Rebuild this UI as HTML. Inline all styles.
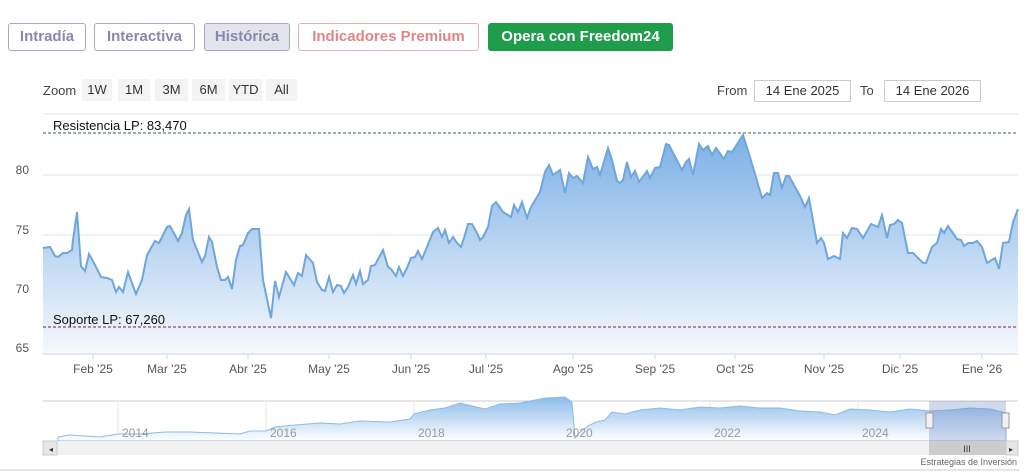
<!DOCTYPE html>
<html><head><meta charset="utf-8"><style>
body{margin:0;width:1033px;height:475px;background:#fff;font-family:"Liberation Sans",sans-serif;position:relative;overflow:hidden}
.b{position:absolute;top:23px;height:26px;border:1px solid #a9a7c4;border-radius:3px;font-weight:bold;font-size:15px;color:#8a87b0;line-height:26px;text-align:center;box-sizing:content-box}
.z{position:absolute;top:79px;height:22px;line-height:22px;background:#f3f3f3;font-size:13px;color:#333;text-align:center}
.t{position:absolute;font-size:13px;color:#444}
.in{position:absolute;top:80px;height:20px;border:1px solid #ccc;font-size:13px;line-height:20px;text-align:center;color:#333}
</style></head><body>
<div class="b" style="left:8px;width:76px">Intradía</div>
<div class="b" style="left:94px;width:99px">Interactiva</div>
<div class="b" style="left:204px;width:84px;background:#e4e4ec">Histórica</div>
<div class="b" style="left:298px;width:179px;color:#e08585;border-color:#e6b0b0">Indicadores Premium</div>
<div class="b" style="left:488px;width:185px;height:28px;border:none;background:#1f9d4b;color:#fff;line-height:28px">Opera con Freedom24</div>
<div class="t" style="left:43px;top:83px">Zoom</div>
<div class="z" style="left:82px;width:30px">1W</div>
<div class="z" style="left:118px;width:32px">1M</div>
<div class="z" style="left:155px;width:33px">3M</div>
<div class="z" style="left:192px;width:33px">6M</div>
<div class="z" style="left:229px;width:33px">YTD</div>
<div class="z" style="left:266px;width:31px">All</div>
<div class="t" style="left:717px;top:83px">From</div>
<div class="in" style="left:754px;width:95px">14 Ene 2025</div>
<div class="t" style="left:860px;top:83px">To</div>
<div class="in" style="left:884px;width:95px">14 Ene 2026</div>
<svg width="1033" height="475" style="position:absolute;left:0;top:0" font-family="Liberation Sans, sans-serif">
<defs>
<linearGradient id="g" x1="0" y1="0" x2="0" y2="1"><stop offset="0" stop-color="#7cb0e6"/><stop offset="1" stop-color="#f6f9fd"/></linearGradient>
<linearGradient id="g2" x1="0" y1="0" x2="0" y2="1"><stop offset="0" stop-color="#8dbbea"/><stop offset="1" stop-color="#fff"/></linearGradient>
</defs>
<g stroke="#e6e6e6"><line x1="43" x2="1018" y1="114" y2="114"/><line x1="43" x2="1018" y1="175" y2="175"/><line x1="43" x2="1018" y1="235" y2="235"/><line x1="43" x2="1018" y1="294" y2="294"/></g>
<polygon fill="url(#g)" points="43,354 43,248 50,247 55,256 58,257 63,253 67,253 72,250 73,240 77,212 81,266 85,271 89,254 95,265 101,277 107,278 112,280 116,292 119,287 123,292 128,272 136,294 142,280 147,255 155,241 159,243 167,227 170,226 178,241 182,233 186,215 189,209 193,240 202,262 205,256 209,237 212,242 217,267 221,280 225,280 228,277 232,289 236,260 240,246 243,245 248,233 252,229 259,229 263,280 271,318 275,281 279,297 286,272 294,285 298,273 302,276 306,255 313,263 317,282 322,290 325,291 329,277 333,292 337,285 341,286 344,293 348,287 353,275 356,284 360,271 363,284 368,280 371,266 375,265 383,250 388,267 391,269 396,276 399,267 403,276 407,268 411,258 415,257 418,251 422,259 427,247 433,232 438,228 442,237 445,230 449,243 453,237 457,243 461,247 464,238 468,224 472,224 477,233 480,240 483,237 488,227 492,206 496,202 503,212 511,217 514,205 518,212 522,202 527,218 531,207 540,192 545,172 549,165 553,175 560,170 565,193 569,173 573,178 577,176 583,183 588,157 593,169 597,167 600,175 608,148 612,160 617,181 620,183 623,180 627,162 631,177 635,171 639,182 647,171 650,178 655,168 660,167 666,144 669,145 682,170 686,162 689,159 693,175 699,144 703,150 708,146 712,155 716,148 724,159 728,151 732,152 743,135 750,157 762,198 767,193 770,195 774,173 778,173 782,188 786,176 789,176 800,196 805,207 809,198 817,243 821,238 824,243 828,259 834,256 840,259 843,233 847,238 852,228 857,229 863,238 871,224 878,227 882,215 887,238 890,225 894,224 898,220 902,223 908,253 913,253 923,263 926,263 932,247 937,243 941,229 944,233 948,226 957,239 961,240 964,246 968,243 973,243 977,241 982,247 987,263 995,258 999,269 1003,243 1009,242 1013,222 1018,209 1018,354"/>
<polyline fill="none" stroke="#6fa6dc" stroke-width="2" points="43,248 50,247 55,256 58,257 63,253 67,253 72,250 73,240 77,212 81,266 85,271 89,254 95,265 101,277 107,278 112,280 116,292 119,287 123,292 128,272 136,294 142,280 147,255 155,241 159,243 167,227 170,226 178,241 182,233 186,215 189,209 193,240 202,262 205,256 209,237 212,242 217,267 221,280 225,280 228,277 232,289 236,260 240,246 243,245 248,233 252,229 259,229 263,280 271,318 275,281 279,297 286,272 294,285 298,273 302,276 306,255 313,263 317,282 322,290 325,291 329,277 333,292 337,285 341,286 344,293 348,287 353,275 356,284 360,271 363,284 368,280 371,266 375,265 383,250 388,267 391,269 396,276 399,267 403,276 407,268 411,258 415,257 418,251 422,259 427,247 433,232 438,228 442,237 445,230 449,243 453,237 457,243 461,247 464,238 468,224 472,224 477,233 480,240 483,237 488,227 492,206 496,202 503,212 511,217 514,205 518,212 522,202 527,218 531,207 540,192 545,172 549,165 553,175 560,170 565,193 569,173 573,178 577,176 583,183 588,157 593,169 597,167 600,175 608,148 612,160 617,181 620,183 623,180 627,162 631,177 635,171 639,182 647,171 650,178 655,168 660,167 666,144 669,145 682,170 686,162 689,159 693,175 699,144 703,150 708,146 712,155 716,148 724,159 728,151 732,152 743,135 750,157 762,198 767,193 770,195 774,173 778,173 782,188 786,176 789,176 800,196 805,207 809,198 817,243 821,238 824,243 828,259 834,256 840,259 843,233 847,238 852,228 857,229 863,238 871,224 878,227 882,215 887,238 890,225 894,224 898,220 902,223 908,253 913,253 923,263 926,263 932,247 937,243 941,229 944,233 948,226 957,239 961,240 964,246 968,243 973,243 977,241 982,247 987,263 995,258 999,269 1003,243 1009,242 1013,222 1018,209"/>
<line x1="43" x2="1018" y1="133" y2="133" stroke="#2d6b2d" stroke-dasharray="3,2"/>
<line x1="43" x2="1018" y1="327" y2="327" stroke="#7a1f3a" stroke-dasharray="3,2"/>
<text x="53" y="130" font-size="13" fill="#111">Resistencia LP: 83,470</text>
<text x="53" y="324" font-size="13" fill="#111">Soporte LP: 67,260</text>
<line x1="43" x2="1018" y1="354" y2="354" stroke="#ccd6eb"/>
<g font-size="12" fill="#555" text-anchor="end"><text x="29" y="174">80</text><text x="29" y="234">75</text><text x="29" y="293">70</text><text x="29" y="352">65</text></g>
<g stroke="#ccd6eb"><line x1="93" x2="93" y1="354" y2="359"/><line x1="167" x2="167" y1="354" y2="359"/><line x1="248" x2="248" y1="354" y2="359"/><line x1="329" x2="329" y1="354" y2="359"/><line x1="411" x2="411" y1="354" y2="359"/><line x1="486" x2="486" y1="354" y2="359"/><line x1="573" x2="573" y1="354" y2="359"/><line x1="655" x2="655" y1="354" y2="359"/><line x1="735" x2="735" y1="354" y2="359"/><line x1="824" x2="824" y1="354" y2="359"/><line x1="900" x2="900" y1="354" y2="359"/><line x1="982" x2="982" y1="354" y2="359"/></g>
<g font-size="12" fill="#555" text-anchor="middle"><text x="93" y="373">Feb '25</text><text x="167" y="373">Mar '25</text><text x="248" y="373">Abr '25</text><text x="329" y="373">May '25</text><text x="411" y="373">Jun '25</text><text x="486" y="373">Jul '25</text><text x="573" y="373">Ago '25</text><text x="655" y="373">Sep '25</text><text x="735" y="373">Oct '25</text><text x="824" y="373">Nov '25</text><text x="900" y="373">Dic '25</text><text x="982" y="373">Ene '26</text></g>
<line x1="43" x2="1018" y1="401" y2="401" stroke="#ccc"/>
<g stroke="#e6e6e6"><line x1="118" x2="118" y1="401" y2="441"/><line x1="266" x2="266" y1="401" y2="441"/><line x1="414" x2="414" y1="401" y2="441"/><line x1="562" x2="562" y1="401" y2="441"/><line x1="710" x2="710" y1="401" y2="441"/><line x1="858" x2="858" y1="401" y2="441"/></g>
<polygon fill="url(#g2)" stroke="#8dbbe6" points="58,441 58,437 70,435 85,436 100,437 118,434 140,434 165,432 190,432 215,433 240,434 250,431 266,431 275,427 295,425 320,423 340,424 360,421 390,422 410,419 414,414 430,410 445,408 460,403 472,406 485,409 500,404 520,403 545,398 565,397 572,402 575,438 580,432 588,426 596,422 605,420 612,412 625,414 640,410 660,408 680,410 700,407 720,408 740,406 760,408 780,408 800,411 820,412 835,415 850,409 870,410 890,412 910,409 930,411 950,410 970,408 990,409 1006,413 1006,441"/>
<rect x="929" y="401" width="77" height="40" fill="rgba(102,133,194,0.3)"/>
<g font-size="12" fill="#999"><text x="122" y="437">2014</text><text x="270" y="437">2016</text><text x="418" y="437">2018</text><text x="566" y="437">2020</text><text x="714" y="437">2022</text><text x="862" y="437">2024</text></g>
<rect x="926" y="413" width="7" height="15" fill="#f2f2f2" stroke="#999"/><rect x="1002" y="413" width="7" height="15" fill="#f2f2f2" stroke="#999"/>
<rect x="43" y="441" width="975" height="14" fill="#f2f2f2"/>
<rect x="43" y="441" width="14" height="14" fill="#e6e6e6" stroke="#ccc"/>
<rect x="929" y="441" width="77" height="14" fill="#ccc"/>
<rect x="1006" y="441" width="12" height="14" fill="#e6e6e6" stroke="#ccc"/>
<text x="967" y="452" font-size="9" fill="#333" text-anchor="middle">III</text>
<text x="49" y="452" font-size="8" fill="#333">◂</text><text x="1009" y="452" font-size="8" fill="#333">▸</text>
<text x="1017" y="465" font-size="9" fill="#666" text-anchor="end">Estrategias de Inversión</text>
<line x1="0" x2="1020" y1="470" y2="470" stroke="#ccc"/>
</svg>
</body></html>
